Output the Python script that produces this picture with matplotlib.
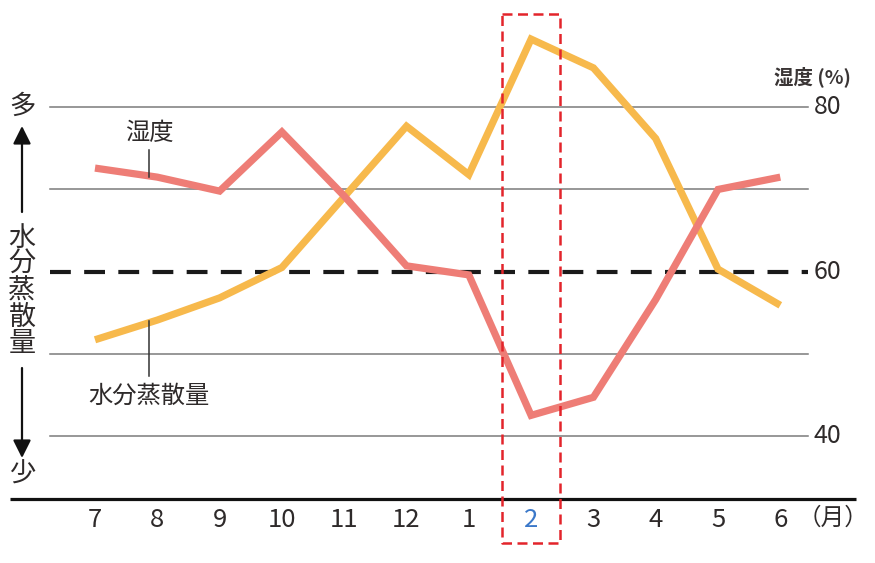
import matplotlib
matplotlib.use("Agg")
import matplotlib.pyplot as plt

plt.rcParams['font.family'] = ['Noto Sans CJK JP', 'DejaVu Sans']

months = ["7", "8", "9", "10", "11", "12", "1", "2", "3", "4", "5", "6"]
humidity = [72.6, 71.5, 69.8, 77.0, 69.2, 60.7, 59.6, 42.5, 44.7, 56.6, 70.0, 71.5]
evaporation = [51.7, 54.1, 56.8, 60.5, 69.1, 77.7, 71.8, 88.3, 84.8, 76.2, 60.3, 55.9]
grid_values = [80, 70, 50, 40]
dashed_value = 60
right_labels = [80, 60, 40]
highlight = "2"

W, H = 875, 563
fig = plt.figure(figsize=(W / 100, H / 100), dpi=100)
ax = fig.add_axes([0, 0, 1, 1])

# pixel mapping helpers (layout only)
x0_px, dx_px = 95.0, 62.3
y80_px, ppu = 107.3, 8.215
def xd(px):
    return (px - x0_px) / dx_px
def yd(py):
    return 80 + (y80_px - py) / ppu

ax.set_xlim(xd(0), xd(W))
ax.set_ylim(yd(H), yd(0))
ax.axis('off')

xs = list(range(len(months)))
gx0, gx1 = xd(50), xd(808)
txt = '#2e2a2a'

for g in grid_values:
    ax.plot([gx0, gx1], [g, g], color='#7a7a7a', lw=1.1, zorder=1)
ax.plot([gx0, gx1], [dashed_value, dashed_value], color='#1a1a1a', lw=3.0,
        dashes=(5, 3.2), zorder=1)

# bottom axis line
ax.plot([xd(10), xd(856)], [yd(499), yd(499)], color='#111111', lw=2.3,
        solid_capstyle='butt', zorder=2)

ax.plot(xs, evaporation, color='#f7b94c', lw=5.2, solid_capstyle='butt',
        solid_joinstyle='miter', zorder=3)
ax.plot(xs, humidity, color='#ee7d76', lw=5.2, solid_capstyle='butt',
        solid_joinstyle='miter', zorder=4)

# x labels
for i, m in enumerate(months):
    ax.text(i, yd(520), m, ha='center', va='center', fontsize=18.5,
            color=('#3b78c9' if m == highlight else txt))
ax.text(xd(833), yd(518), "（月）", ha='center', va='center', fontsize=17,
        color=txt)

# right labels
for v in right_labels:
    ax.text(xd(814), v, str(v), ha='left', va='center', fontsize=18,
            color=txt)
ax.text(xd(812), yd(77), "湿度 (%)", ha='center', va='center', fontsize=14,
        fontweight='bold', color='#3a3535')

# highlight rectangle
rx0, rx1 = xd(502), xd(560)
ry0, ry1 = yd(14), yd(543)
ax.plot([rx0, rx1, rx1, rx0, rx0], [ry0, ry0, ry1, ry1, ry0], color='#e3242b',
        lw=1.8, dashes=(4, 2.2), zorder=5)

# series annotations
ax.text(xd(149), yd(133), "湿度", ha='center', va='center', fontsize=17.5,
        color=txt)
ax.plot([xd(149), xd(149)], [yd(150), yd(177)], color='#333333', lw=1.1, zorder=5)
ax.text(xd(149), yd(396), "水分蒸散量", ha='center', va='center', fontsize=17.5,
        color=txt)
ax.plot([xd(149), xd(149)], [yd(321), yd(376)], color='#333333', lw=1.1, zorder=5)

# left axis description
lx = xd(22)
ax.text(lx, yd(106), "多", ha='center', va='center', fontsize=19, color=txt)
ax.text(lx, yd(474), "少", ha='center', va='center', fontsize=19, color=txt)
ax.text(lx, yd(291), "\n".join("水分蒸散量"), ha='center', va='center',
        fontsize=19.5, linespacing=0.97, color=txt)
ax.annotate("", xy=(lx, yd(126)), xytext=(lx, yd(212)),
            arrowprops=dict(arrowstyle='-|>', color='#111111', lw=1.6,
                            mutation_scale=27, shrinkA=0, shrinkB=0))
ax.annotate("", xy=(lx, yd(458)), xytext=(lx, yd(368)),
            arrowprops=dict(arrowstyle='-|>', color='#111111', lw=1.6,
                            mutation_scale=27, shrinkA=0, shrinkB=0))

fig.savefig("out.png", dpi=100, facecolor='white')
